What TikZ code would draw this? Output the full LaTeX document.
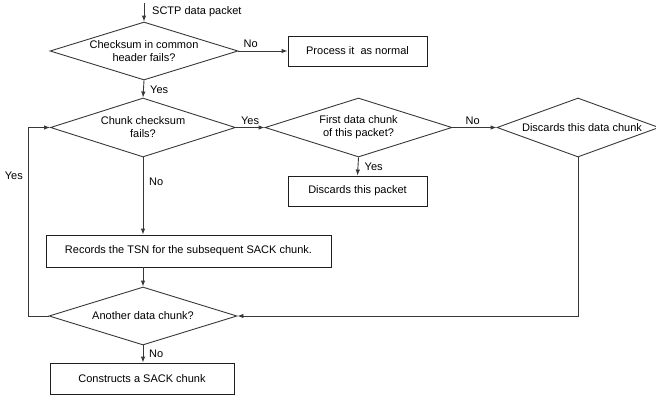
\documentclass[tikz,border=0pt]{standalone}
\usepackage{fontspec}
\setmainfont{Liberation Sans}
\usepackage{tikz}
\usetikzlibrary{arrows.meta}
\usetikzlibrary{positioning}
\usetikzlibrary{shapes.geometric}
\usepackage{xcolor}
\definecolor{lineink}{HTML}{383838}
\definecolor{boxink}{HTML}{1E1E1E}

\begin{document}
\begin{tikzpicture}[
        x=1pt, y=-1pt,
        font=\fontsize{11}{13}\selectfont,
        decision/.style={diamond, draw=lineink, line width=0.9pt, inner sep=0pt,
          align=center},
        process/.style={rectangle, draw=boxink, line width=0.9pt, inner sep=0pt},
        flow/.style={draw=lineink, line width=0.9pt, -{Latex[length=6pt,width=4.5pt]}},
        link/.style={draw=lineink, line width=0.9pt},
        lbl/.style={inner sep=0pt},
      ]
      \useasboundingbox (0,0) rectangle (656,397);

      % === Incoming packet ===
      \coordinate (src) at (144,3);
      \node[lbl, anchor=west] (srclbl) at (152,12) {SCTP data packet};

      \node[decision, shape aspect=3.2, minimum width=188pt, minimum height=58pt]
        (hdrchk) at (144,51) {Checksum in common\\header fails?};
      \node[process, minimum width=139pt, minimum height=30pt]
        (normal) at (357.5,51) {Process it~ as normal};

      \draw[flow] (src) -- (hdrchk.north);
      \draw[flow] (hdrchk.east) -- (normal.west);
      \node[lbl, anchor=south west] (nohdr) at ([xshift=5pt,yshift=3pt]hdrchk.east) {No};

      % === Per chunk checks ===
      \node[decision, shape aspect=3.1, minimum width=185pt, minimum height=59pt]
        (chunkchk) at (143,127.5) {Chunk checksum\\fails?};
      \node[decision, shape aspect=3.1, minimum width=187pt, minimum height=59pt]
        (firstchk) at (358.5,127.5) {First data chunk\\of this packet?};
      \node[decision, shape aspect=2.7, minimum width=162pt, minimum height=59pt]
        (dropchunk) at (578,127.5) {\hspace*{8pt}Discards this data chunk};
      \node[process, minimum width=139pt, minimum height=30pt]
        (droppkt) at (357.5,191) {Discards this packet};

      \draw[flow] (hdrchk.south) -- (chunkchk.north);
      \node[lbl, anchor=west] (yeshdr) at ([xshift=6pt,yshift=-9pt]hdrchk.south) {Yes};

      \draw[flow] (chunkchk.east) -- (firstchk.west);
      \node[lbl, anchor=south west] (yeschunk) at ([xshift=5pt,yshift=3pt]chunkchk.east) {Yes};

      \draw[flow] (firstchk.east) -- (dropchunk.west);
      \node[lbl, anchor=south west] (nofirst) at ([xshift=13pt,yshift=3pt]firstchk.east) {No};

      \draw[flow] (firstchk.south) -- (droppkt.north);
      \node[lbl, anchor=west] (yesfirst) at ([xshift=6pt,yshift=-9pt]firstchk.south) {Yes};

      % === Good chunk ===
      \node[process, minimum width=285pt, minimum height=32pt]
        (record) at (188.5,251) {Records the TSN for the subsequent SACK chunk.};
      \node[decision, shape aspect=3.2, minimum width=188pt, minimum height=58pt]
        (another) at (143,316) {Another data chunk?};
      \node[process, minimum width=184pt, minimum height=31pt]
        (sack) at (142,378.5) {Constructs a SACK chunk};

      \draw[flow] (chunkchk.south) -- (record.north -| chunkchk.south);
      \node[lbl, anchor=west] (nochunk) at ([xshift=6pt,yshift=-24pt]chunkchk.south) {No};

      \draw[flow] (record.south -| another.north) -- (another.north);
      \draw[flow] (another.south) -- (sack.north -| another.south);
      \node[lbl, anchor=west] (noanother) at ([xshift=6pt,yshift=-8pt]another.south) {No};

      % Loop back and dropped chunk
      \draw[flow] (another.west) -- ++(-20,0) |- (chunkchk.west);
      \node[lbl, anchor=east] (yesloop) at (23,176) {Yes};
      \draw[flow] (dropchunk.south) |- (another.east);

      \end{tikzpicture}
\end{document}
